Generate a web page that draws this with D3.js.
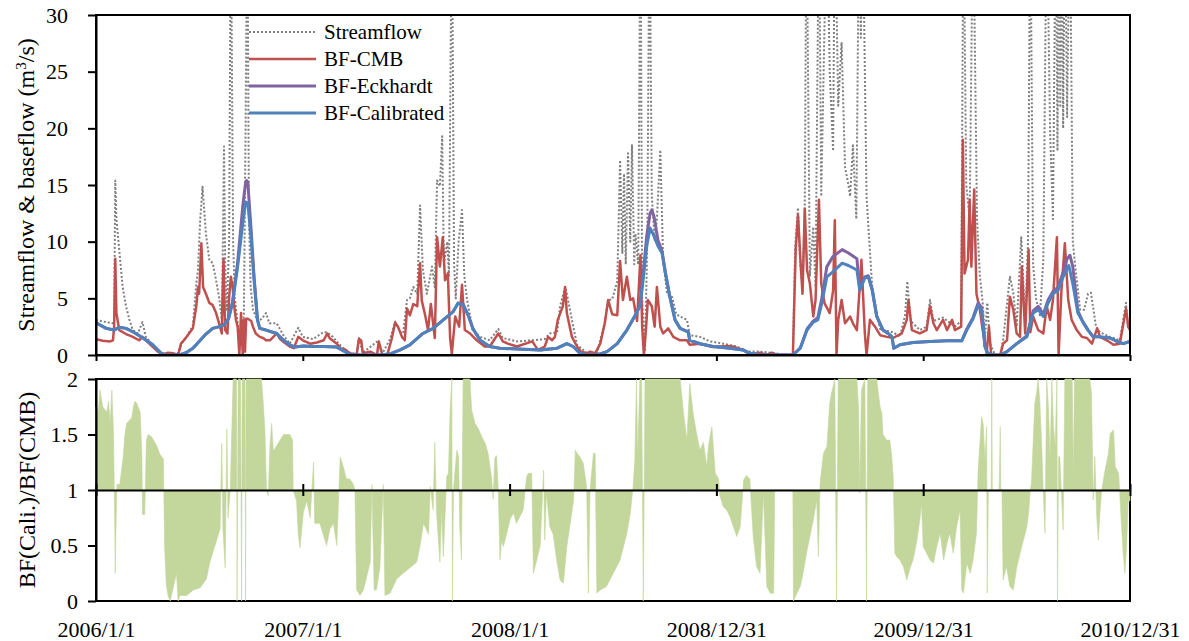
<!DOCTYPE html>
<html>
<head>
<meta charset="utf-8">
<script src="https://cdn.jsdelivr.net/npm/d3@7"></script>
<style>
  body { margin: 0; background: #fff; }
  svg { display: block; font-family: "Liberation Serif", "Times New Roman", serif; }
</style>
</head>
<body>
<svg id="chart" width="1189" height="641"></svg>
<script>
// day offsets from 2006/1/1 for the date ticks
const dateTickDays = [0, 365, 730, 1095, 1460, 1825];
const flowTicks = [0, 5, 10, 15, 20, 25, 30];
const ratioTicks = [0, 0.5, 1, 1.5, 2];
const legendLabels = ['Streamflow', 'BF-CMB', 'BF-Eckhardt', 'BF-Calibrated'];

// [day since 2006/1/1, m3/s]
const streamflow = [[0,3.1],[18,2.9],[30,2.8],[32,3.0],[34,15.4],[36,12],[41,9.3],[47,6.0],[53,4.3],[59,3.1],[65,2.2],[74,1.9],[82,2.9],[88,1.6],[100,0.9],[115,0.2],[143,0],[152,1.1],[159,1.5],[164,2.0],[171,2.6],[177,6.3],[180,7.5],[184,12],[188,14.85],[194,10.7],[200,8.4],[206,8.1],[212,6.6],[218,4.85],[222,3.1],[224,10],[226,18.4],[228,8],[231,4],[235,10],[238,40],[242,10],[245,5],[250,2.8],[253,0.5],[259,1.0],[261,3.5],[264,20],[267,40],[270,12],[273,6],[277,4],[285,3.0],[293,3.2],[300,3.7],[306,2.8],[319,2.8],[330,1.8],[342,1.0],[357,2.4],[365,1.6],[383,1.4],[401,2.0],[408,2.0],[418,1.6],[434,0.7],[448,0.2],[460,0.1],[464,1.5],[471,0.2],[499,1.3],[505,0.1],[519,1.4],[528,2.95],[537,2.0],[542,1.9],[549,4.85],[554,5.0],[560,6.0],[567,5.4],[572,13.2],[577,7.5],[584,5.4],[593,7.8],[598,6],[602,15.4],[607,14.9],[611,19.3],[614,8],[620,10],[623,7],[628,40],[632,8],[635,5],[640,10],[646,12.8],[650,7],[655,4.85],[665,2.2],[678,1.6],[695,1.3],[710,2.3],[718,1.5],[743,1.2],[771,1.3],[792,1.4],[801,1.9],[814,2.0],[819,4.3],[828,6.0],[831,5.4],[840,3.1],[849,0.9],[867,0.15],[884,0.1],[898,2.9],[904,4.85],[911,4.9],[920,6.5],[925,17.2],[929,9],[932,16],[935,8],[939,17.8],[943,10],[946,18.5],[950,8],[952,10.7],[957,8],[961,40],[964,5],[969,0.3],[973,10],[977,40],[981,14],[986,10.1],[990,12],[996,18.1],[1001,8.4],[1008,5.4],[1017,5.1],[1024,3.6],[1031,3.4],[1043,3.1],[1048,1.75],[1066,1.6],[1084,1.2],[1107,1.0],[1131,0.75],[1149,0.3],[1172,0.3],[1190,0.2],[1225,0],[1230,0.1],[1234,9.6],[1239,13],[1243,8],[1247,6],[1251,13.2],[1254,40],[1260,7],[1266,11.3],[1270,6],[1276,40],[1280,14],[1290,40],[1295,25],[1301,18],[1304,40],[1310,22],[1316,27.6],[1322,16.6],[1328,15],[1331,14],[1336,18.5],[1342,12],[1347,40],[1350,28],[1353,40],[1360,14],[1364,10.7],[1370,6],[1377,4],[1384,2.3],[1407,2.0],[1419,1.6],[1428,3.5],[1432,6.5],[1438,3],[1454,2.2],[1466,2.5],[1472,4.85],[1478,3],[1495,3.3],[1516,2.5],[1527,3],[1531,40],[1536,15],[1542,12],[1548,40],[1555,12],[1560,7],[1565,4.6],[1569,1.5],[1573,4.6],[1578,1],[1587,0],[1596,0],[1601,1.3],[1613,6.9],[1619,5.5],[1625,2.5],[1633,10.4],[1640,3],[1645,10],[1649,40],[1654,8],[1659,5],[1666,3.5],[1672,8.4],[1678,40],[1684,19.6],[1689,12],[1694,40],[1697,18],[1700,40],[1702,22],[1705,40],[1707,20],[1710,40],[1714,21],[1719,40],[1724,10],[1729,7.5],[1737,4],[1744,4],[1751,5.4],[1756,5.5],[1765,2.5],[1772,2.0],[1790,1.6],[1807,1.3],[1818,4.6],[1821,2.5],[1825,2.3]];

const bfCMB = [[0,1.4],[12,1.25],[25,1.2],[30,1.3],[32,2.5],[34,8.5],[36,3.7],[41,2.2],[53,1.85],[65,1.6],[76,1.3],[82,1.6],[94,1.0],[109,0.3],[118,0.05],[127,0.2],[136,0.15],[145,0],[150,1.0],[155,1.3],[162,1.75],[171,2.35],[177,4.3],[180,6.0],[182,5.4],[186,9.85],[189,6.0],[194,5.4],[200,4.6],[206,4.4],[212,3.7],[218,2.65],[222,1.9],[225,8.5],[228,2.2],[232,1.9],[235,5.1],[238,6.9],[241,6.0],[244,4.3],[247,3.1],[250,2.5],[253,0],[256,3.7],[259,0],[261,3.1],[263,0.3],[265,3.2],[268,3.2],[274,3.0],[277,2.5],[282,1.9],[289,1.6],[295,1.5],[300,1.3],[307,1.3],[319,1.9],[325,1.4],[330,1.2],[342,0.75],[349,0.6],[357,1.6],[365,1.3],[378,1.0],[390,1.1],[402,1.3],[408,1.9],[413,1.45],[425,1.0],[434,0.45],[439,0.5],[448,0.15],[460,0],[464,1.4],[468,1.3],[471,0.15],[484,0.3],[496,0],[499,1.2],[505,0.1],[514,0],[522,1.45],[528,2.85],[533,2.5],[540,1.6],[545,1.3],[549,4.1],[554,3.5],[560,4.5],[567,4.3],[572,8.1],[575,4.8],[581,3.5],[586,2.2],[591,4.5],[598,1.5],[602,10.4],[607,7.8],[612,10.4],[616,6.6],[621,7.2],[625,1.5],[628,0.1],[634,3.4],[641,2.5],[646,6.2],[651,2.2],[660,1.9],[672,1.3],[686,0.75],[695,0.75],[710,1.9],[718,1.2],[727,1.0],[743,0.75],[770,1.2],[780,0.45],[792,0.75],[798,1.6],[805,1.3],[810,1.6],[815,3.1],[824,4.3],[828,6.0],[831,3.7],[840,1.6],[849,0.75],[856,0.3],[867,0.15],[872,0.3],[881,0.15],[890,1.0],[898,2.8],[904,4.85],[911,3.6],[920,3.5],[925,8.3],[930,4.85],[937,6.9],[943,4.85],[948,5.0],[955,3.0],[961,8.8],[964,2.5],[967,0],[971,2.5],[974,4.85],[981,4.3],[986,2.5],[990,6.0],[996,2.5],[1001,1.9],[1010,2.35],[1019,1.6],[1031,1.3],[1043,1.3],[1048,0.9],[1066,1.0],[1089,0.7],[1114,0.8],[1124,0.75],[1142,0.45],[1154,0.05],[1172,0.2],[1184,0],[1193,0.2],[1202,0],[1230,0],[1235,9.3],[1239,12.35],[1244,7.8],[1247,5.4],[1251,12.9],[1255,7.5],[1260,6.3],[1266,3.4],[1270,4.85],[1276,13.7],[1280,6.3],[1286,4.55],[1295,3.7],[1301,5.7],[1304,11.9],[1307,0],[1310,3.1],[1316,4.85],[1322,2.8],[1331,3.4],[1336,2.8],[1343,2.2],[1351,8.4],[1357,1.9],[1360,0],[1366,3.1],[1375,2.5],[1384,1.75],[1396,1.6],[1407,1.5],[1422,1.9],[1431,3.1],[1434,4.85],[1440,2.2],[1454,1.9],[1466,2.2],[1472,4.3],[1478,2.8],[1484,2.2],[1495,3.1],[1502,2.2],[1511,3.1],[1516,2.2],[1527,2.5],[1530,19.0],[1533,7.2],[1539,8.4],[1542,13.7],[1545,7.8],[1550,14.6],[1554,5.4],[1560,4.0],[1565,2.2],[1572,0.15],[1576,2.5],[1580,0],[1596,0],[1601,1.0],[1608,1.3],[1613,5.15],[1619,4.0],[1625,1.9],[1631,1.6],[1634,7.8],[1640,1.9],[1646,9.3],[1649,2.0],[1654,3.4],[1663,2.2],[1672,1.9],[1678,4.3],[1684,3.1],[1689,4.85],[1696,10.4],[1699,0],[1704,5.7],[1710,9.85],[1716,4.85],[1722,3.1],[1731,2.2],[1740,1.6],[1749,1.5],[1758,1.0],[1767,2.35],[1772,1.6],[1784,1.3],[1796,0.9],[1807,1.0],[1818,4.1],[1822,2.5],[1825,2.2]];

const bfEckhardt = [[0,2.85],[18,2.35],[32,2.2],[41,2.45],[53,2.35],[65,2.05],[83,1.5],[100,0.9],[115,0.15],[120,0],[147,0],[159,0.2],[171,0.6],[182,1.2],[194,1.85],[206,2.35],[218,2.5],[226,2.65],[234,3.2],[241,4.7],[250,8.2],[259,13.1],[264,15.2],[266,15.4],[268,15.2],[274,10.9],[279,6.9],[285,3.1],[289,2.35],[300,2.2],[319,1.9],[331,1.3],[342,0.9],[351,0.7],[366,0.8],[384,0.75],[401,0.75],[425,0.7],[434,0.45],[448,0.05],[460,0],[501,0],[519,0.1],[537,0.45],[554,0.9],[577,1.9],[595,2.35],[613,3.1],[630,3.8],[639,4.6],[648,4.5],[657,3.5],[665,2.35],[678,1.3],[695,0.75],[713,0.6],[754,0.5],[784,0.45],[814,0.6],[831,1.0],[842,0.75],[854,0.15],[867,0],[884,0],[902,0.3],[920,1.0],[937,2.2],[955,3.8],[960,4.4],[965,6.8],[972,10.5],[978,12.5],[981,12.8],[985,12.2],[992,10.1],[999,9.2],[1005,7.3],[1013,5.1],[1022,3.1],[1031,2.35],[1045,2.05],[1048,1.3],[1066,1.0],[1089,0.75],[1119,0.6],[1142,0.45],[1154,0.15],[1172,0],[1230,0],[1243,0.6],[1255,2.3],[1266,3.0],[1274,3.3],[1281,5.0],[1290,7.8],[1301,8.7],[1317,9.3],[1328,9.0],[1343,8.5],[1348,5.8],[1357,6.9],[1363,7.0],[1370,5.8],[1378,3.4],[1389,2.2],[1398,1.9],[1405,1.6],[1408,0.6],[1419,0.9],[1442,1.1],[1472,1.2],[1502,1.25],[1528,1.25],[1537,2.3],[1548,3.3],[1557,4.6],[1563,4.2],[1569,0.75],[1574,0.15],[1583,0],[1596,0],[1608,0.3],[1625,1.0],[1643,1.7],[1654,3.9],[1663,4.3],[1672,3.6],[1680,4.8],[1689,5.6],[1698,6.0],[1707,7.3],[1714,8.5],[1719,8.8],[1724,7.8],[1733,3.9],[1742,2.9],[1751,2.2],[1760,1.6],[1772,1.6],[1790,1.5],[1802,1.2],[1813,1.0],[1825,1.2]];

const bfCalibrated = [[0,2.85],[18,2.35],[32,2.2],[41,2.45],[53,2.35],[65,2.05],[83,1.5],[100,0.9],[115,0.15],[120,0],[147,0],[159,0.2],[171,0.6],[182,1.2],[194,1.85],[206,2.35],[218,2.5],[226,2.65],[234,3.2],[241,4.6],[250,7.8],[259,11.6],[264,13.5],[268,13.4],[274,10.1],[279,6.6],[285,3.1],[289,2.35],[300,2.2],[319,1.9],[331,1.3],[342,0.9],[351,0.7],[366,0.8],[384,0.75],[401,0.75],[425,0.7],[434,0.45],[448,0.05],[460,0],[501,0],[519,0.1],[537,0.45],[554,0.9],[577,1.9],[595,2.35],[613,3.1],[630,3.8],[639,4.55],[648,4.4],[657,3.5],[665,2.35],[678,1.3],[695,0.75],[713,0.6],[754,0.5],[784,0.45],[814,0.6],[831,1.0],[842,0.75],[854,0.15],[867,0],[884,0],[902,0.3],[920,1.0],[937,2.2],[955,3.8],[960,4.3],[965,6.3],[972,9.6],[978,11.2],[983,10.7],[992,9.6],[999,9.0],[1005,7.2],[1013,5.1],[1022,3.1],[1031,2.35],[1045,2.05],[1048,1.3],[1066,1.0],[1089,0.75],[1119,0.6],[1142,0.45],[1154,0.15],[1172,0],[1230,0],[1243,0.6],[1255,2.2],[1266,2.9],[1274,3.1],[1281,4.55],[1290,6.9],[1301,7.35],[1317,8.1],[1328,7.9],[1343,7.5],[1348,5.7],[1357,6.8],[1363,6.9],[1370,5.7],[1378,3.4],[1389,2.2],[1398,1.9],[1405,1.6],[1408,0.6],[1419,0.9],[1442,1.1],[1472,1.2],[1502,1.25],[1528,1.25],[1537,2.2],[1548,3.2],[1557,4.4],[1563,4.0],[1569,0.75],[1574,0.15],[1583,0],[1596,0],[1608,0.3],[1625,1.0],[1643,1.6],[1654,3.7],[1663,4.0],[1672,3.4],[1680,4.55],[1689,5.4],[1698,5.7],[1707,6.9],[1717,7.9],[1724,6.3],[1733,3.7],[1742,2.9],[1751,2.2],[1760,1.6],[1772,1.6],[1790,1.5],[1802,1.2],[1813,1.0],[1825,1.2]];

// BF(Cali.)/BF(CMB), clipped at 2 in the figure
const ratio = [[0,1.75],[4,1.7],[7,1.9],[12,1.75],[19,1.7],[22,1.8],[25,1.6],[28,1.9],[31,1.5],[33,0.7],[34,0.25],[35,0.6],[37,1.05],[42,1.05],[48,1.3],[51,1.5],[54,1.6],[63,1.65],[66,1.75],[69,1.8],[72,1.78],[78,1.7],[81,1.3],[82,0.78],[86,0.78],[89,1.45],[92,1.5],[98,1.48],[107,1.4],[113,1.32],[119,1.28],[121,0.5],[124,0.15],[127,0.05],[131,0],[142,0.25],[145,0],[148,0.05],[160,0.05],[172,0.1],[184,0.12],[195,0.2],[201,0.35],[207,0.45],[213,0.55],[219,0.65],[222,1.42],[224,0.65],[228,0.3],[231,1.55],[233,0.75],[237,1.0],[242,2],[248,2],[249,0],[251,2],[255,2],[257,0],[258,2],[263,2],[264,0],[265,2],[292,2],[295,1.8],[298,1.55],[301,1.0],[304,0.95],[307,1.4],[310,1.6],[313,1.35],[319,1.4],[325,1.45],[331,1.5],[342,1.5],[347,1.45],[348,1.0],[354,0.9],[357,0.6],[360,0.48],[366,0.8],[372,0.9],[378,0.75],[384,1.25],[386,0.7],[395,0.7],[407,0.5],[413,0.65],[419,0.7],[425,0.5],[431,1.3],[437,1.2],[442,1.1],[448,1.1],[454,1.05],[457,1.0],[460,0.1],[466,0.05],[472,0.1],[484,0.35],[487,1.05],[491,0.1],[495,0.1],[501,0.3],[507,1.05],[510,0.05],[519,0.07],[531,0.2],[542,0.25],[554,0.3],[566,0.35],[572,0.5],[578,0.7],[587,0.6],[590,1.03],[595,0.82],[598,1.43],[601,0.8],[607,0.35],[610,0.82],[613,0.4],[619,1.12],[622,1.15],[625,1.72],[628,2],[629,0],[631,1.0],[634,1.2],[637,1.36],[640,1.3],[642,0.67],[645,0.37],[648,2],[660,2],[663,1.72],[669,1.6],[675,1.55],[681,1.48],[687,1.42],[692,1.33],[698,1.12],[701,0.92],[704,1.29],[707,1.31],[710,1.0],[713,0.37],[716,0.55],[719,0.49],[725,0.61],[731,0.74],[737,0.79],[742,0.7],[748,0.76],[754,0.82],[760,1.12],[763,1.15],[769,1.15],[772,0.25],[778,0.37],[784,0.5],[790,1.18],[792,0.55],[795,0.97],[801,0.67],[807,0.6],[813,0.37],[819,0.19],[825,0.16],[831,0.49],[837,0.7],[843,0.91],[846,1.36],[849,1.33],[854,1.3],[860,1.24],[866,1.03],[869,0.07],[872,1.0],[878,1.33],[881,1.33],[884,0.07],[890,0.1],[901,0.13],[913,0.25],[925,0.37],[931,0.49],[937,0.61],[943,0.79],[948,1.03],[951,1.27],[954,2],[956,1.3],[960,2],[963,2],[966,0],[969,2],[1031,2],[1037,1.69],[1043,1.45],[1048,1.96],[1054,1.69],[1060,1.51],[1066,1.36],[1072,1.43],[1078,1.21],[1081,1.4],[1087,1.57],[1093,1.15],[1099,1.1],[1101,0.95],[1107,0.85],[1113,0.82],[1119,0.76],[1125,0.67],[1131,0.58],[1137,0.67],[1143,1.09],[1148,1.13],[1154,1.1],[1160,0.58],[1166,0.31],[1172,0.25],[1178,0.97],[1184,0.13],[1190,0.07],[1196,0.07],[1198,1.0],[1230,1.0],[1231,0],[1237,0.07],[1243,0.13],[1248,0.25],[1254,0.43],[1260,0.58],[1266,0.73],[1272,0.91],[1275,0.4],[1278,1.06],[1284,1.33],[1290,1.39],[1295,1.78],[1298,1.87],[1301,1.93],[1304,2],[1307,0],[1310,2],[1343,2],[1346,1.72],[1348,0.97],[1351,1.9],[1357,2],[1360,0],[1362,2],[1378,2],[1381,1.87],[1384,1.75],[1387,1.69],[1389,1.5],[1392,1.48],[1395,1.45],[1401,1.45],[1404,1.33],[1407,1.12],[1410,0.43],[1413,0.4],[1419,0.37],[1425,0.31],[1431,0.19],[1437,0.3],[1442,0.37],[1448,0.52],[1454,0.73],[1457,0.88],[1460,0.49],[1466,0.43],[1472,0.37],[1478,0.34],[1484,0.49],[1490,0.61],[1496,0.37],[1502,0.52],[1507,0.61],[1513,0.43],[1519,0.67],[1525,0.82],[1528,0.1],[1531,0.07],[1537,0.34],[1543,0.25],[1548,0.37],[1554,0.61],[1557,1.18],[1560,1.42],[1563,1.66],[1566,1.59],[1569,1.27],[1572,1.57],[1573,0.07],[1575,1.0],[1580,1.0],[1581,2],[1582,1.0],[1594,1.0],[1596,1.57],[1597,1.0],[1599,1.0],[1601,0.19],[1607,0.31],[1613,0.13],[1619,0.1],[1625,0.3],[1631,0.43],[1637,0.55],[1643,0.67],[1646,0.79],[1649,1.0],[1651,1.06],[1654,1.42],[1657,1.78],[1660,1.87],[1663,2],[1666,1.78],[1669,1.42],[1672,0.97],[1675,0.61],[1678,2],[1681,1.75],[1684,1.27],[1687,2],[1690,1.57],[1693,1.39],[1696,2],[1697,0],[1699,1.3],[1701,1.3],[1707,0.64],[1710,2],[1723,2],[1725,1.1],[1727,2],[1754,2],[1757,1.87],[1760,0.91],[1763,1.3],[1766,0.79],[1769,0.55],[1772,0.8],[1775,1.0],[1781,1.18],[1787,1.33],[1790,1.51],[1796,1.54],[1799,1.21],[1805,1.15],[1807,0.97],[1810,0.67],[1813,0.43],[1816,0.25],[1819,0.49],[1822,0.91],[1825,0.9]];

const start = new Date(Date.UTC(2006, 0, 1));
const toDate = day => d3.utcDay.offset(start, day);

const left = 96, right = 1130;
const top1 = 15, bottom1 = 355;
const top2 = 379, bottom2 = 601;

const svg = d3.select('#chart');

const x = d3.scaleUtc()
  .domain([toDate(0), toDate(1825)])
  .range([left, right]);

const yFlow = d3.scaleLinear().domain([0, 30]).range([bottom1, top1]);
const yRatio = d3.scaleLinear().domain([0, 2]).range([bottom2, top2]);

const tickDates = dateTickDays.map(toDate);

svg.append('defs').append('clipPath').attr('id', 'clipTop')
  .append('rect')
  .attr('x', left).attr('y', top1)
  .attr('width', right - left).attr('height', bottom1 - top1);

// ---------- upper panel ----------
const flowLine = d3.line()
  .x(d => x(toDate(d[0])))
  .y(d => yFlow(d[1]));

const plot = svg.append('g').attr('clip-path', 'url(#clipTop)');

const seriesStyle = [
  {data: streamflow, color: '#7f7f7f', width: 2, dash: '2,2'},
  {data: bfCMB, color: '#c0504d', width: 2.5, dash: null},
  {data: bfEckhardt, color: '#8064a2', width: 3, dash: null},
  {data: bfCalibrated, color: '#4f81bd', width: 3, dash: null}
];

seriesStyle.forEach(s => {
  plot.append('path')
    .datum(s.data)
    .attr('fill', 'none')
    .attr('stroke', s.color)
    .attr('stroke-width', s.width)
    .attr('stroke-dasharray', s.dash)
    .attr('stroke-linejoin', 'round')
    .attr('d', flowLine);
});

svg.append('rect')
  .attr('x', left).attr('y', top1)
  .attr('width', right - left).attr('height', bottom1 - top1)
  .attr('fill', 'none').attr('stroke', '#000').attr('stroke-width', 2);

svg.append('g')
  .attr('class', 'axis')
  .attr('transform', `translate(${left},0)`)
  .call(d3.axisLeft(yFlow).tickValues(flowTicks).tickSize(8).tickSizeOuter(0).tickPadding(20));

svg.append('g')
  .attr('class', 'axis')
  .attr('transform', `translate(0,${bottom1})`)
  .call(d3.axisBottom(x).tickValues(tickDates).tickSize(6).tickSizeOuter(0).tickFormat(''));

// legend
const legend = svg.append('g');
legendLabels.forEach((label, i) => {
  const s = seriesStyle[i];
  const ly = 32 + i * 27;
  legend.append('line')
    .attr('x1', 249).attr('x2', 316)
    .attr('y1', ly).attr('y2', ly)
    .attr('stroke', s.color)
    .attr('stroke-width', s.width)
    .attr('stroke-dasharray', s.dash);
  legend.append('text')
    .attr('x', 324).attr('y', ly)
    .attr('dy', '0.35em')
    .style('font-size', '21px')
    .text(label);
});

const t1 = svg.append('text')
  .attr('transform', `translate(34,${(top1 + bottom1) / 2}) rotate(-90)`)
  .attr('text-anchor', 'middle')
  .style('font-size', '24px');
t1.append('tspan').text('Streamflow & baseflow (m');
t1.append('tspan').attr('baseline-shift', 'super').style('font-size', '15px').text('3');
t1.append('tspan').text('/s)');

// ---------- lower panel ----------
svg.append('rect')
  .attr('x', left).attr('y', top2)
  .attr('width', right - left).attr('height', bottom2 - top2)
  .attr('fill', 'none').attr('stroke', '#000').attr('stroke-width', 2);

const ratioArea = d3.area()
  .x(d => x(toDate(d[0])))
  .y0(yRatio(1))
  .y1(d => yRatio(Math.min(2, d[1])));

svg.append('path')
  .datum(ratio)
  .attr('fill', '#c3d69b')
  .attr('stroke', '#c3d69b')
  .attr('stroke-width', 0.6)
  .attr('d', ratioArea);

svg.append('g')
  .attr('class', 'axis')
  .attr('transform', `translate(0,${yRatio(1)})`)
  .call(d3.axisBottom(x).tickValues(tickDates).tickSize(6).tickSizeOuter(0).tickFormat(''));

svg.append('g')
  .attr('class', 'axis noline')
  .attr('transform', `translate(0,${yRatio(1)})`)
  .call(d3.axisTop(x).tickValues(tickDates).tickSize(6).tickSizeOuter(0).tickFormat(''));

svg.append('g')
  .attr('class', 'axis')
  .attr('transform', `translate(${left},0)`)
  .call(d3.axisLeft(yRatio).tickValues(ratioTicks).tickSize(8).tickSizeOuter(0).tickPadding(10).tickFormat(d => d));

svg.append('g')
  .attr('class', 'axis noline')
  .attr('transform', `translate(0,${bottom2})`)
  .call(d3.axisBottom(x).tickValues(tickDates).tickSize(0).tickPadding(20).tickFormat(d3.utcFormat('%Y/%-m/%-d')));

svg.selectAll('.noline .domain').remove();

svg.append('text')
  .attr('transform', `translate(35,${(top2 + bottom2) / 2}) rotate(-90)`)
  .attr('text-anchor', 'middle')
  .style('font-size', '24px')
  .text('BF(Cali.)/BF(CMB)');

svg.selectAll('.axis .domain').attr('stroke', '#000').attr('stroke-width', 2);
svg.selectAll('.axis .tick line').attr('stroke', '#000').attr('stroke-width', 2);
svg.selectAll('.axis .tick text')
  .attr('fill', '#000')
  .style('font-family', '"Liberation Serif", "Times New Roman", serif')
  .style('font-size', '22px');
</script>
</body>
</html>
